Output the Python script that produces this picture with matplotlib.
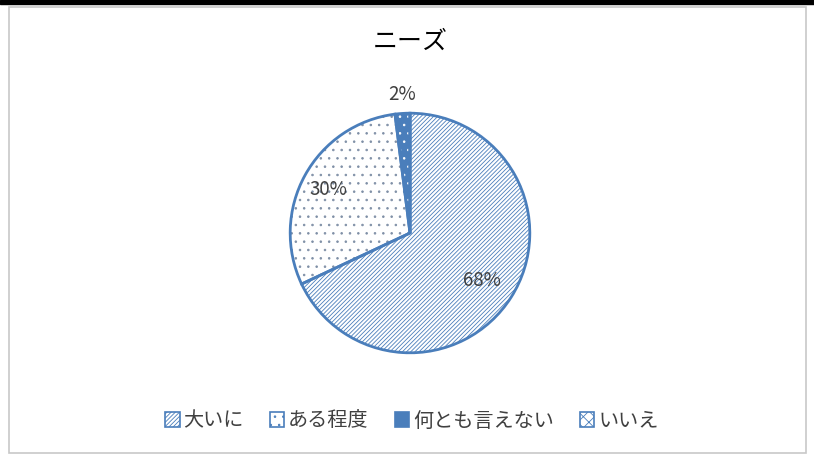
import matplotlib.pyplot as plt
from matplotlib.patches import Patch, Rectangle

plt.rcParams['font.family'] = ['Noto Sans CJK JP', 'DejaVu Sans']
plt.rcParams['hatch.linewidth'] = 0.6

## Data
categories = ['大いに', 'ある程度', '何とも言えない', 'いいえ']
shares = [68, 30, 2, 0]
pct_labels = ['68%', '30%', '2%', '']

## Styles
blue = '#4a7ebb'
faces = ['white', 'white', blue, 'white']
hatches = ['////////', '..', '..', 'xxx']
hatch_cols = [blue, '#7f8fa6', 'white', blue]
text_col = '#404040'

fig = plt.figure(figsize=(8.14, 4.55), dpi=100)
fig.patches.append(Rectangle((0, 1 - 4 / 455), 1, 4 / 455, transform=fig.transFigure,
                             color='black', zorder=-2))
fig.patches.append(Rectangle((9 / 814, 2 / 455), 797 / 814, 446 / 455, transform=fig.transFigure,
                             facecolor='white', edgecolor='#c8c8c8', lw=1.2, zorder=-2))

R = 121
ax = fig.add_axes([(410 - R) / 814, (455 - 233 - R) / 455, 2 * R / 814, 2 * R / 455])
ax.set_zorder(2)
ax.patch.set_visible(False)

# filled + hatched wedges (edge colour drives hatch colour)
wedges, _ = ax.pie(shares, startangle=90, counterclock=False, colors=faces,
                   wedgeprops=dict(linewidth=0))
for w, h, hc in zip(wedges, hatches, hatch_cols):
    w.set_hatch(h)
    w.set_edgecolor(hc)

# outlines
outline, _ = ax.pie(shares, startangle=90, counterclock=False,
                    wedgeprops=dict(facecolor='none', edgecolor=blue, linewidth=2))

# percentage labels
label_pos = [(0.60, -0.40), (-0.68, 0.36), (-0.066, 1.16)]
for (x, y), t in zip(label_pos, pct_labels):
    ax.text(x, y, t, ha='center', va='center', fontsize=13.5, color=text_col)
ax.set_aspect('equal')
ax.set_xlim(-1.01, 1.01)
ax.set_ylim(-1.01, 1.01)

fig.text(410 / 814, 1 - 42 / 455, 'ニーズ', ha='center', va='center', fontsize=18, color='black')

handles = [Patch(facecolor=f, edgecolor=blue, hatch=h, lw=1.2) for f, h in zip(faces, hatches)]
leg = fig.legend(handles, categories, loc='center', bbox_to_anchor=(412 / 814, 1 - 421 / 455),
                 ncol=4, frameon=False, fontsize=14.5, handlelength=0.7, handleheight=0.7,
                 handletextpad=0.2, columnspacing=1.3, labelcolor=text_col)

plt.savefig('out.png', dpi=100)
